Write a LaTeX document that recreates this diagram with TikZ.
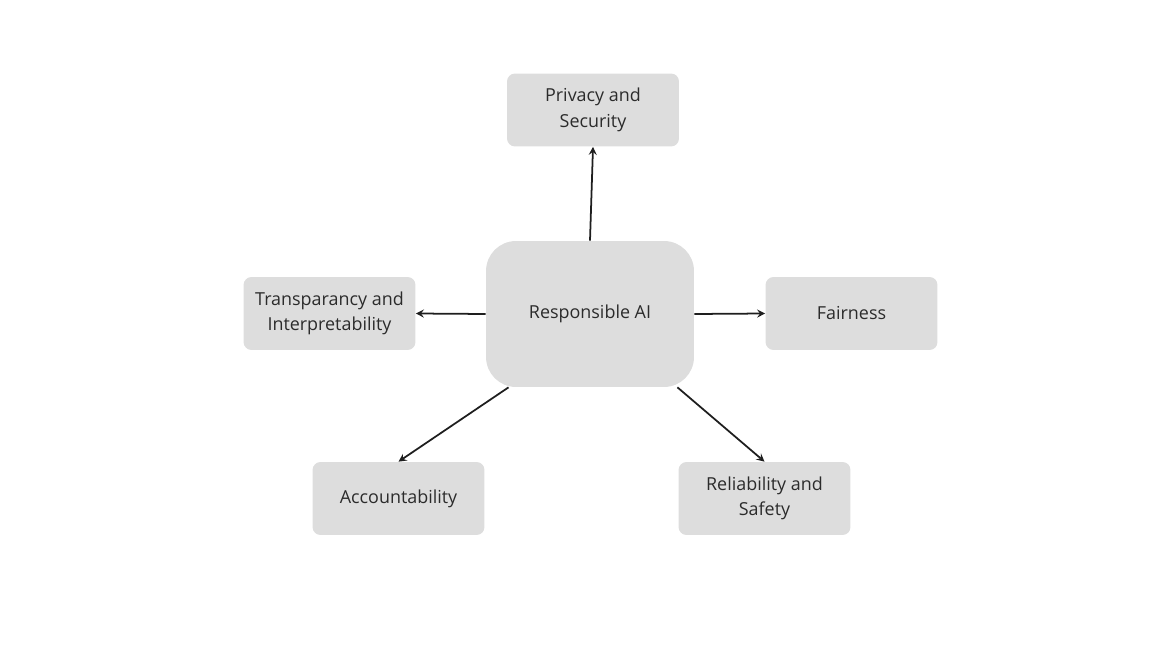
\documentclass[tikz,border=0pt]{standalone}
\usepackage{fontspec}
\setmainfont{Open Sans}
\usepackage{xcolor}
\usepackage{tikz}
\definecolor{boxGray}{HTML}{DDDDDD}
\definecolor{textGray}{HTML}{2B2B2B}
\definecolor{lineGray}{HTML}{1E1E1E}
\tikzset{
  topic/.style = {fill=boxGray, rounded corners=0.16cm, align=center, text=textGray,
                  minimum width=3.44cm, minimum height=1.46cm, inner sep=0pt,
                  font=\fontsize{10.2}{14.5}\selectfont},
  link/.style = {->, >=stealth, line width=1pt, draw=lineGray}
}

\begin{document}
\begin{tikzpicture}[x=0.02cm, y=-0.02cm]
    \useasboundingbox (0,0) rectangle (1152,648);
    \node[topic, rounded corners=0.6cm, minimum width=4.16cm, minimum height=2.92cm](responsibleAI) at (590,314) {Responsible AI};
    \node[topic](privacy) at (593,110) {Privacy and\\Security};
    \node[topic](transparency) at (329.5,313.5) {Transparancy and\\Interpretability};
    \node[topic](fairness) at (851.5,313.5) {Fairness};
    \node[topic](accountability) at (398.5,498.5) {Accountability};
    \node[topic](reliability) at (764.5,498.5) {Reliability and\\Safety};

    \draw [link] (responsibleAI.north) -- (privacy.south);
    \draw [link] (responsibleAI.west) -- (transparency.east);
    \draw [link] (responsibleAI.east) -- (fairness.west);
    \draw [link] (responsibleAI.222) -- (accountability.north);
    \draw [link] (responsibleAI.320) -- (reliability.north);
\end{tikzpicture}
\end{document}
